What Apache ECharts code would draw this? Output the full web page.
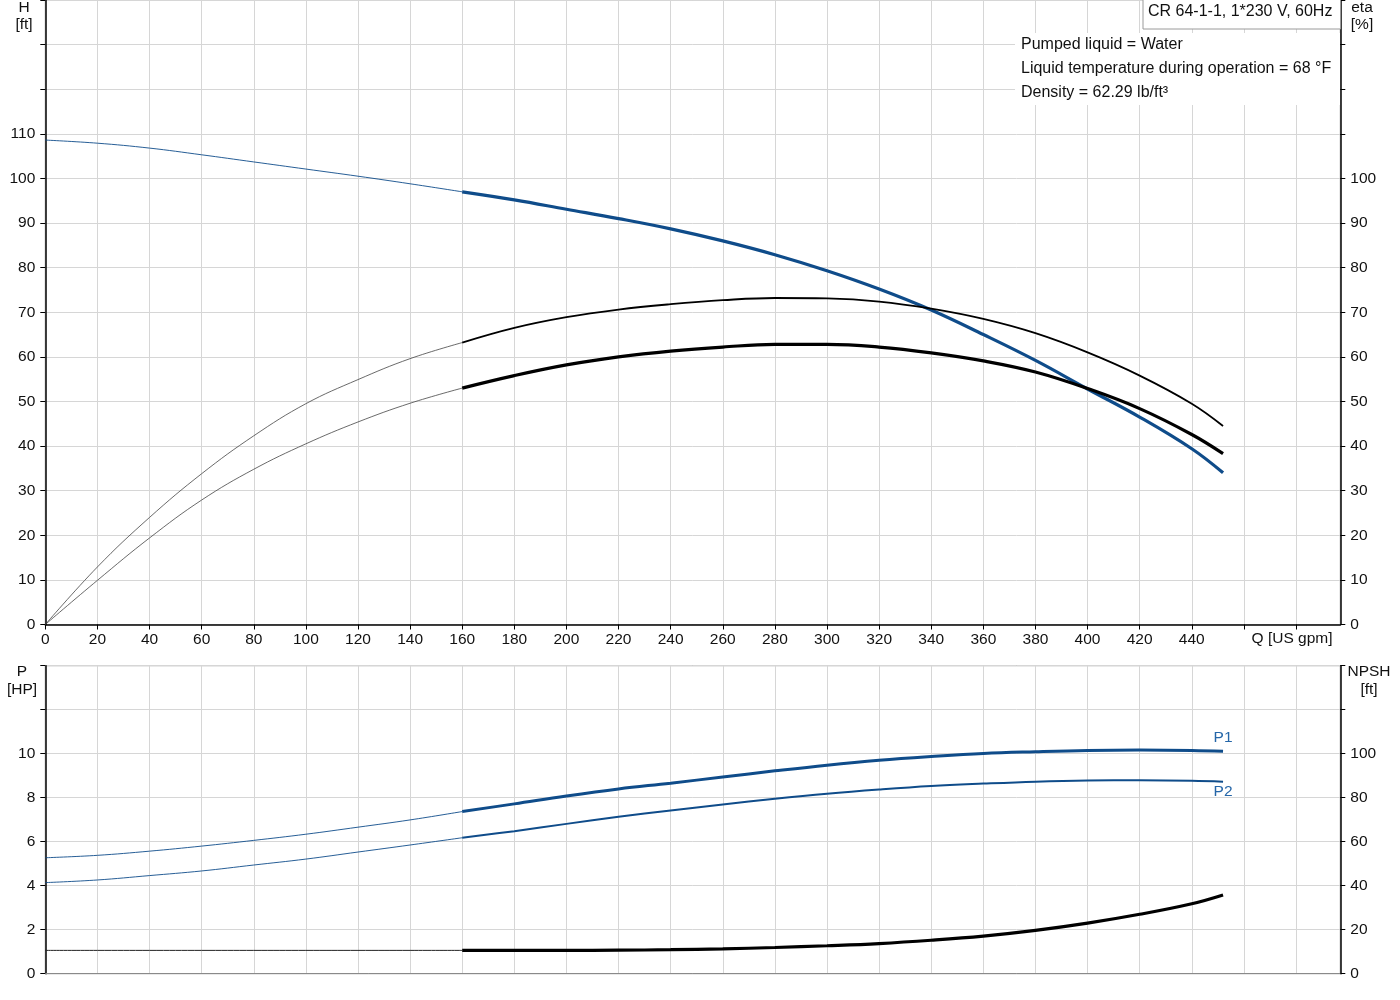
<!DOCTYPE html>
<html>
<head>
<meta charset="utf-8">
<script src="https://cdn.jsdelivr.net/npm/echarts@6/dist/echarts.min.js"></script>
<style>html,body{margin:0;padding:0;background:#fff}#c{width:1400px;height:1000px}</style>
</head>
<body>
<div id="c"></div>
<script>
// Flow points (US gpm)
const flowQ = [0,20,40,60,80,100,120,140,160,180,200,220,240,260,280,300,320,340,360,380,400,420,440,452];
// Head H [ft]
const head = [108.6,107.9,106.8,105.3,103.7,102.1,100.5,98.8,97.0,95.2,93.1,91.0,88.7,86.0,82.9,79.3,75.2,70.5,65.0,59.2,52.8,46.5,39.4,34.0];
// Efficiency curves eta [%]
const etaUpper = [0,12.9,24.0,33.8,42.3,49.5,54.9,59.6,63.2,66.5,68.9,70.6,71.8,72.7,73.2,73.1,72.4,70.8,68.5,65.3,61.0,55.8,49.5,44.5];
const etaLower = [0,9.9,19.4,27.9,34.8,40.5,45.4,49.6,53.0,55.8,58.2,60.0,61.3,62.2,62.8,62.8,62.2,60.9,59.1,56.6,52.9,48.4,42.6,38.3];
// Power P [HP]
const powerP1 = [5.27,5.38,5.57,5.80,6.06,6.34,6.66,6.99,7.37,7.72,8.08,8.40,8.66,8.94,9.22,9.48,9.70,9.87,10.01,10.09,10.15,10.17,10.15,10.11];
const powerP2 = [4.14,4.26,4.46,4.67,4.94,5.21,5.53,5.85,6.18,6.48,6.81,7.13,7.42,7.69,7.95,8.18,8.37,8.53,8.64,8.73,8.78,8.79,8.77,8.73];
// NPSH [ft]
const npsh = [10.6,10.6,10.6,10.6,10.6,10.6,10.6,10.6,10.6,10.6,10.6,10.7,10.9,11.3,11.9,12.7,13.7,15.2,17.1,19.7,23.0,27.0,31.8,35.8];
// Tick label limits
const hLabelMax = 110, etaLabelMax = 100, pLabelMax = 10, npshLabelMax = 100, qLabelMax = 440;
const splitQ = 160;

const FONT = 'Liberation Sans, Arial, sans-serif';
const BLUE = '#0f4c8a';
const LBLUE = '#2566a8';

function pairs(arr, lo, hi) {
  const out = [];
  flowQ.forEach((q, i) => { if (q >= lo && q <= hi) out.push([q, arr[i]]); });
  return out;
}
function line(name, arr, xi, yi, lo, hi, color, width, endLabel) {
  const data = pairs(arr, lo, hi);
  const s = { name, type: 'line', xAxisIndex: xi, yAxisIndex: yi, data, smooth: 0.4, symbol: 'none', showSymbol: false,
    lineStyle: { color, width }, itemStyle: { color }, silent: true, z: width > 1.5 ? 4 : 3 };
  if (endLabel) {
    s.markPoint = { silent: true, symbol: 'circle', symbolSize: 2, itemStyle: { color: 'rgba(0,0,0,0)' },
      data: [{ coord: data[data.length - 1],
        label: Object.assign({ show: true, color: LBLUE, fontSize: 15.5, fontFamily: FONT }, endLabel) }] };
  }
  return s;
}

const tickStyle = { show: true, length: 5, lineStyle: { color: '#000', width: 1 } };
const axisLineBlack = { show: true, lineStyle: { color: '#000', width: 1.5 } };
const gridLine = { show: true, lineStyle: { color: '#d6d6d6', width: 1 } };
const lbl = (limit, margin) => ({ margin, fontSize: 15.5, color: '#111', fontFamily: FONT, formatter: v => (v <= limit ? String(v) : '') });

const option = {
  animation: false,
  backgroundColor: '#fff',
  grid: [
    { left: 45.3, top: 0, width: 1295, height: 624.5, show: true, borderColor: '#9a9a9a', borderWidth: 1 },
    { left: 45.3, top: 665.7, width: 1295, height: 308, show: true, borderColor: '#8a8a8a', borderWidth: 1 }
  ],
  xAxis: [
    { type: 'value', gridIndex: 0, min: 0, max: 497, interval: 20, axisLine: axisLineBlack, axisTick: tickStyle,
      axisLabel: Object.assign(lbl(qLabelMax, 7), { showMaxLabel: false }), splitLine: gridLine },
    { type: 'value', gridIndex: 1, min: 0, max: 497, interval: 20, axisLine: { show: true, lineStyle: { color: '#8a8a8a' } },
      axisTick: { show: false }, axisLabel: { show: false }, splitLine: gridLine }
  ],
  yAxis: [
    { type: 'value', gridIndex: 0, position: 'left', min: 0, max: 140, interval: 10, axisLine: axisLineBlack, axisTick: tickStyle,
      axisLabel: lbl(hLabelMax, 10), splitLine: gridLine },
    { type: 'value', gridIndex: 0, position: 'right', min: 0, max: 140, interval: 10, axisLine: axisLineBlack, axisTick: tickStyle,
      axisLabel: lbl(etaLabelMax, 10), splitLine: { show: false } },
    { type: 'value', gridIndex: 1, position: 'left', min: 0, max: 14, interval: 2, axisLine: axisLineBlack, axisTick: tickStyle,
      axisLabel: lbl(pLabelMax, 10), splitLine: gridLine },
    { type: 'value', gridIndex: 1, position: 'right', min: 0, max: 140, interval: 20, axisLine: axisLineBlack, axisTick: tickStyle,
      axisLabel: lbl(npshLabelMax, 10), splitLine: { show: false } }
  ],
  series: [
    line('H thin', head, 0, 0, 0, splitQ, BLUE, 0.9),
    line('H', head, 0, 0, splitQ, 460, BLUE, 3.2),
    line('eta1 thin', etaUpper, 0, 1, 0, splitQ, '#444', 0.8),
    line('eta1', etaUpper, 0, 1, splitQ, 460, '#000', 1.8),
    line('eta2 thin', etaLower, 0, 1, 0, splitQ, '#444', 0.8),
    line('eta2', etaLower, 0, 1, splitQ, 460, '#000', 3.2),
    line('P1 thin', powerP1, 1, 2, 0, splitQ, BLUE, 0.9),
    line('P1', powerP1, 1, 2, splitQ, 460, BLUE, 3.0, { position: 'top', distance: 5, formatter: 'P1' }),
    line('P2 thin', powerP2, 1, 2, 0, splitQ, BLUE, 0.9),
    line('P2', powerP2, 1, 2, splitQ, 460, BLUE, 2.0, { position: 'bottom', distance: 1, formatter: 'P2' }),
    line('NPSH thin', npsh, 1, 3, 0, splitQ, '#222', 1.0),
    line('NPSH', npsh, 1, 3, splitQ, 460, '#000', 3.2)
  ],
  graphic: [
    { type: 'rect', z: 10, shape: { x: 1015, y: 33, width: 325, height: 72 }, style: { fill: '#fff' } },
    { type: 'rect', z: 10, shape: { x: 1143, y: -2, width: 197.5, height: 31 }, style: { fill: '#fff', stroke: '#9a9a9a', lineWidth: 1 } },
    { type: 'text', z: 11, style: { text: 'CR 64-1-1, 1*230 V, 60Hz', x: 1148, y: 12, font: '16px ' + FONT, fill: '#111', verticalAlign: 'middle' } },
    { type: 'text', z: 11, style: { text: 'Pumped liquid = Water', x: 1021, y: 45, font: '16px ' + FONT, fill: '#111', verticalAlign: 'middle' } },
    { type: 'text', z: 11, style: { text: 'Liquid temperature during operation = 68 °F', x: 1021, y: 69, font: '16px ' + FONT, fill: '#111', verticalAlign: 'middle' } },
    { type: 'text', z: 11, style: { text: 'Density = 62.29 lb/ft³', x: 1021, y: 93, font: '16px ' + FONT, fill: '#111', verticalAlign: 'middle' } },
    { type: 'text', z: 11, style: { text: 'H', x: 24, y: 8, font: '15.5px ' + FONT, fill: '#111', align: 'center', verticalAlign: 'middle' } },
    { type: 'text', z: 11, style: { text: '[ft]', x: 24, y: 25, font: '15.5px ' + FONT, fill: '#111', align: 'center', verticalAlign: 'middle' } },
    { type: 'text', z: 11, style: { text: 'eta', x: 1362, y: 8, font: '15.5px ' + FONT, fill: '#111', align: 'center', verticalAlign: 'middle' } },
    { type: 'text', z: 11, style: { text: '[%]', x: 1362, y: 25, font: '15.5px ' + FONT, fill: '#111', align: 'center', verticalAlign: 'middle' } },
    { type: 'text', z: 11, style: { text: 'P', x: 22, y: 672, font: '15.5px ' + FONT, fill: '#111', align: 'center', verticalAlign: 'middle' } },
    { type: 'text', z: 11, style: { text: '[HP]', x: 22, y: 690, font: '15.5px ' + FONT, fill: '#111', align: 'center', verticalAlign: 'middle' } },
    { type: 'text', z: 11, style: { text: 'NPSH', x: 1369, y: 672, font: '15.5px ' + FONT, fill: '#111', align: 'center', verticalAlign: 'middle' } },
    { type: 'text', z: 11, style: { text: '[ft]', x: 1369, y: 690, font: '15.5px ' + FONT, fill: '#111', align: 'center', verticalAlign: 'middle' } },
    { type: 'text', z: 11, style: { text: 'Q [US gpm]', x: 1292, y: 639, font: '15.5px ' + FONT, fill: '#111', align: 'center', verticalAlign: 'middle' } }
  ]
};

const chart = echarts.init(document.getElementById('c'), null, { renderer: 'canvas' });
chart.setOption(option);
</script>
</body>
</html>
